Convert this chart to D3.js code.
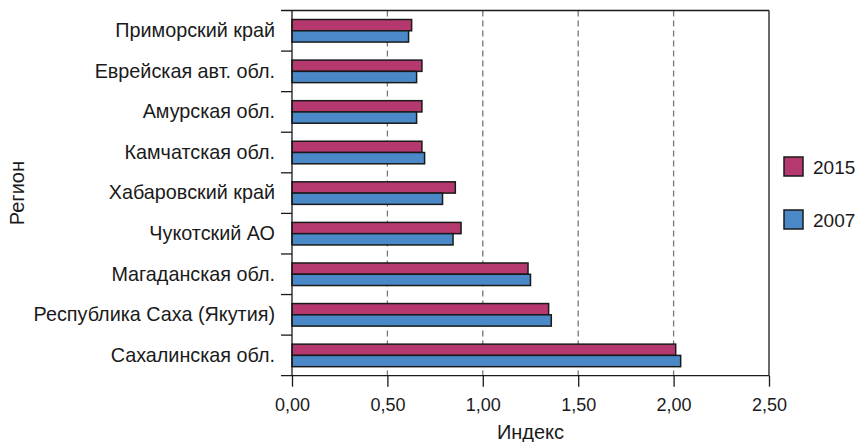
<!DOCTYPE html>
<html><head><meta charset="utf-8">
<script src="https://cdn.jsdelivr.net/npm/d3@7"></script>
<style>
body{margin:0;background:#fff;}
text{font-family:"Liberation Sans",Arial,sans-serif;fill:#1a1a1a;}
</style></head>
<body>
<svg id="chart" width="858" height="442"></svg>
<script>
const regions = ["Приморский край","Еврейская авт. обл.","Амурская обл.","Камчатская обл.","Хабаровский край","Чукотский АО","Магаданская обл.","Республика Саха (Якутия)","Сахалинская обл."];
const values2015 = [0.627,0.681,0.681,0.681,0.856,0.886,1.237,1.345,2.011];
const values2007 = [0.611,0.653,0.653,0.695,0.789,0.844,1.250,1.359,2.037];
const seriesNames = ["2015","2007"];
const seriesColors = ["#b5396f","#4a88c8"];
const xTicks = [0,0.5,1,1.5,2,2.5];
const xLabel = "Индекс", yLabel = "Регион";

const svg = d3.select("#chart");
const L = 292, R = 769, T = 10.5, B = 375.7;
const x = d3.scaleLinear().domain([0,2.5]).range([L,R]);
const y = d3.scaleBand().domain(regions).range([T,B]).padding(0);
const y1 = d3.scaleBand().domain(seriesNames).range([0,y.bandwidth()]).paddingInner(0).paddingOuter(0.8);
const color = d3.scaleOrdinal().domain(seriesNames).range(seriesColors);
const fmt = d => d3.format(".2f")(d).replace(".", ",");
const FF = "Liberation Sans, Arial, sans-serif";

// grid
svg.append("g").selectAll("line").data(xTicks.filter(d=>d>0&&d<2.5)).join("line")
  .attr("x1",d=>x(d)).attr("x2",d=>x(d)).attr("y1",T).attr("y2",B)
  .attr("stroke","#777").attr("stroke-width",1.3).attr("stroke-dasharray","6,4");

// bars
const data = regions.map((r,i)=>({r, v:{"2015":values2015[i],"2007":values2007[i]}}));
const g = svg.append("g").selectAll("g").data(data).join("g").attr("transform",d=>`translate(0,${y(d.r)})`);
g.selectAll("rect").data(d=>seriesNames.map(s=>({s,v:d.v[s]}))).join("rect")
  .attr("x",x(0)).attr("y",d=>y1(d.s)).attr("width",d=>x(d.v)-x(0)).attr("height",y1.bandwidth())
  .attr("fill",d=>color(d.s)).attr("stroke","#1a1a1a").attr("stroke-width",1.5);

// frame top & right
svg.append("line").attr("x1",L-11).attr("x2",R).attr("y1",T).attr("y2",T).attr("stroke","#1a1a1a").attr("stroke-width",1.3);
svg.append("line").attr("x1",R).attr("x2",R).attr("y1",T).attr("y2",B).attr("stroke","#1a1a1a").attr("stroke-width",1.3);

// x axis
const xa = svg.append("g").attr("transform",`translate(0,${B})`)
  .call(d3.axisBottom(x).tickValues(xTicks).tickFormat(fmt).tickSize(11).tickSizeOuter(0).tickPadding(12));
xa.select(".domain").attr("d",`M${L-11},0H${R}`).attr("stroke","#1a1a1a").attr("stroke-width",1.3);
xa.selectAll(".tick line").attr("stroke","#1a1a1a").attr("stroke-width",1.3);
xa.selectAll("text").attr("font-size",18).style("fill","#1a1a1a").attr("font-family",FF);

// y axis
const ya = svg.append("g").attr("transform",`translate(${L},0)`)
  .call(d3.axisLeft(y).tickSize(0).tickPadding(17));
ya.select(".domain").attr("d",`M0,${T}V${B}`).attr("stroke","#1a1a1a").attr("stroke-width",1.3);
ya.selectAll("text").attr("font-size",19.8).style("fill","#1a1a1a").attr("font-family",FF);
// boundary ticks
svg.append("g").selectAll("line").data(regions.slice(1)).join("line")
  .attr("x1",L-11).attr("x2",L).attr("y1",d=>y(d)).attr("y2",d=>y(d))
  .attr("stroke","#1a1a1a").attr("stroke-width",1.3);

// axis titles
svg.append("text").attr("x",(L+R)/2).attr("y",439).attr("text-anchor","middle").attr("font-size",20).text(xLabel);
svg.append("text").attr("transform",`translate(24,${(T+B)/2}) rotate(-90)`).attr("text-anchor","middle").attr("font-size",20).text(yLabel);

// legend
const lg = svg.append("g").selectAll("g").data(seriesNames).join("g")
  .attr("transform",(d,i)=>`translate(784,${157+i*53})`);
lg.append("rect").attr("width",19).attr("height",19).attr("fill",d=>color(d)).attr("stroke","#1a1a1a").attr("stroke-width",1.5);
lg.append("text").attr("x",29).attr("y",17).attr("font-size",19).text(d=>d);
</script>
</body></html>
